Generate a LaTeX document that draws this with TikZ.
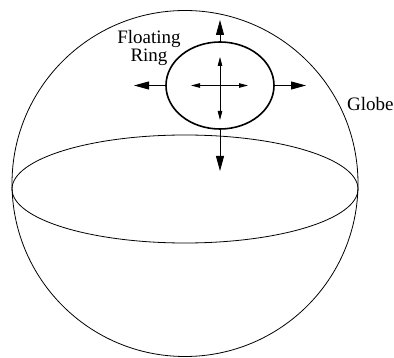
\documentclass[tikz,border=0pt]{standalone}
\usepackage{fontspec}
\setmainfont{Liberation Serif}
\usetikzlibrary{shapes.geometric,arrows.meta}
\begin{document}
\begin{tikzpicture}[x=1pt,y=-1pt,
  thinline/.style={line width=0.8pt},
  bigarrow/.style={line width=0.8pt,-{Triangle[length=15pt,width=8pt]}},
  smallarrow/.style={line width=0.8pt,{Triangle[length=9pt,width=4.5pt]}-{Triangle[length=9pt,width=4.5pt]}},
  lbl/.style={font=\fontsize{19}{16}\selectfont, inner sep=0pt, align=center}]
\useasboundingbox (0,0) rectangle (394,358);
\node[circle, draw, thinline, minimum size=346pt, inner sep=0pt] (globe) at (185,183.5) {};
\node[ellipse, draw, thinline, minimum width=346pt, minimum height=108pt, inner sep=0pt] (equator) at (185,189) {};
\node[ellipse, draw, line width=1.6pt, minimum width=108pt, minimum height=87pt, inner sep=0pt] (ring) at (220,85.5) {};
\coordinate (up) at (220,20);
\coordinate (down) at (220,171);
\coordinate (left) at (134,85.5);
\coordinate (right) at (306,85.5);
\draw[bigarrow] (ring.north) -- (up);
\draw[bigarrow] (ring.south) -- (down);
\draw[bigarrow] (ring.west) -- (left);
\draw[bigarrow] (ring.east) -- (right);
\coordinate (il) at (191,85.5);
\coordinate (ir) at (248,85.5);
\coordinate (it) at (220,57);
\coordinate (ib) at (220,120);
\draw[smallarrow] (il) -- (ir);
\draw[smallarrow] (it) -- (ib);
\node[lbl] (fr) at (149,48) {Floating\\Ring};
\node[lbl, anchor=west] (gl) at (347,104) {Globe};
\end{tikzpicture}
\end{document}
